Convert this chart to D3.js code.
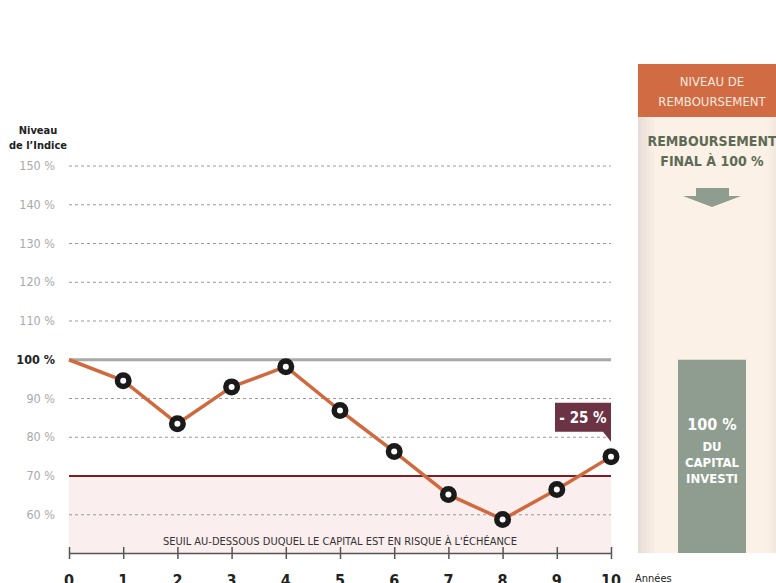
<!DOCTYPE html>
<html>
<head>
<meta charset="utf-8">
<script src="https://cdn.jsdelivr.net/npm/d3@7"></script>
<style>
body { margin: 0; background: #fff; }
svg { display: block; font-family: "Liberation Sans Narrow", "DejaVu Sans Condensed", "Roboto", sans-serif; }
</style>
</head>
<body>
<script>
var years = [0, 1, 2, 3, 4, 5, 6, 7, 8, 9, 10];
var levels = [100, 94.6, 83.5, 93.0, 98.2, 86.9, 76.3, 65.2, 58.8, 66.5, 75.0];
var yTicks = [150, 140, 130, 120, 110, 100, 90, 80, 70, 60];
var barrier = 70;
var finalLabel = "- 25 %";

var width = 776, height = 583;
var svg = d3.select("body").append("svg")
    .attr("width", width)
    .attr("height", height);

var x = d3.scaleLinear().domain([0, 10]).range([69, 611]);
var y = d3.scaleLinear().domain([50, 150]).range([553.5, 166]);

// right panel
var defs = svg.append("defs");
var grad = defs.append("linearGradient").attr("id", "shade");
grad.append("stop").attr("offset", "0%").attr("stop-color", "#e6dcd6");
grad.append("stop").attr("offset", "12%").attr("stop-color", "#fbf1e6");
grad.append("stop").attr("offset", "88%").attr("stop-color", "#fbf1e6");
grad.append("stop").attr("offset", "100%").attr("stop-color", "#e9dfd8");

svg.append("rect").attr("x", 638).attr("y", 117).attr("width", 146).attr("height", 436)
    .attr("fill", "url(#shade)");
svg.append("rect").attr("x", 638).attr("y", 64).attr("width", 146).attr("height", 53)
    .attr("fill", "#d06b44");
svg.append("text").attr("x", 712).attr("y", 86).attr("text-anchor", "middle")
    .attr("fill", "#fbe9df").style("font-size", "13px").text("NIVEAU DE");
svg.append("text").attr("x", 712).attr("y", 106).attr("text-anchor", "middle")
    .attr("fill", "#fbe9df").style("font-size", "13px").text("REMBOURSEMENT");
svg.append("text").attr("x", 712).attr("y", 146).attr("text-anchor", "middle")
    .attr("fill", "#5d6b55").style("font-size", "14px").style("font-weight", "bold").text("REMBOURSEMENT");
svg.append("text").attr("x", 712).attr("y", 166).attr("text-anchor", "middle")
    .attr("fill", "#5d6b55").style("font-size", "14px").style("font-weight", "bold").text("FINAL À 100 %");
// arrow: stem + head
svg.append("path").attr("d", "M696,188 L729,188 L729,196 L741,196 L712,207 L683,196 L696,196 Z")
    .attr("fill", "#8e9d8f");

svg.append("rect").attr("x", 678).attr("y", y(100)).attr("width", 68).attr("height", 553 - y(100))
    .attr("fill", "#8e9d8f");
svg.append("text").attr("x", 712).attr("y", 430).attr("text-anchor", "middle")
    .attr("fill", "#fff").style("font-size", "16px").style("font-weight", "bold").text("100 %");
["DU", "CAPITAL", "INVESTI"].forEach(function (t, i) {
    svg.append("text").attr("x", 712).attr("y", 451 + i * 16).attr("text-anchor", "middle")
        .attr("fill", "#fff").style("font-size", "13px").style("font-weight", "bold").text(t);
});

// risk zone
svg.append("rect").attr("x", x(0)).attr("y", y(barrier)).attr("width", x(10) - x(0))
    .attr("height", y(50) - y(barrier)).attr("fill", "#fbeeee");
svg.append("text").attr("x", (x(0) + x(10)) / 2).attr("y", 545).attr("text-anchor", "middle")
    .attr("fill", "#333").style("font-size", "11px")
    .text("SEUIL AU-DESSOUS DUQUEL LE CAPITAL EST EN RISQUE À L'ÉCHÉANCE");

// grid
svg.selectAll(".grid").data(yTicks.filter(function (d) { return d !== 100 && d !== barrier; }))
    .enter().append("line")
    .attr("x1", x(0)).attr("x2", x(10))
    .attr("y1", function (d) { return y(d); }).attr("y2", function (d) { return y(d); })
    .attr("stroke", "#999").attr("stroke-width", 1).attr("stroke-dasharray", "3,3");

svg.append("line").attr("x1", x(0)).attr("x2", x(10)).attr("y1", y(100)).attr("y2", y(100))
    .attr("stroke", "#a9a9a9").attr("stroke-width", 3);
svg.append("line").attr("x1", x(0)).attr("x2", x(10)).attr("y1", y(barrier)).attr("y2", y(barrier))
    .attr("stroke", "#7d1f22").attr("stroke-width", 2);

// y labels
svg.selectAll(".ylab").data(yTicks).enter().append("text")
    .attr("x", 55).attr("y", function (d) { return y(d) + 4; })
    .attr("text-anchor", "end")
    .attr("fill", function (d) { return d === 100 ? "#222" : "#aaa"; })
    .style("font-weight", function (d) { return d === 100 ? "bold" : "normal"; })
    .style("font-size", "12.5px")
    .text(function (d) { return d + " %"; });

svg.append("text").attr("x", 38).attr("y", 134).attr("text-anchor", "middle")
    .attr("fill", "#222").style("font-size", "11px").style("font-weight", "bold").text("Niveau");
svg.append("text").attr("x", 38).attr("y", 149).attr("text-anchor", "middle")
    .attr("fill", "#222").style("font-size", "11px").style("font-weight", "bold").text("de l’Indice");

// x axis
var xAxis = svg.append("g").attr("transform", "translate(0,553)")
    .call(d3.axisBottom(x).tickValues(years).tickSize(0).tickFormat(""));
xAxis.select(".domain").attr("stroke", "#555").attr("stroke-width", 1.5);
xAxis.selectAll(".tick line").attr("y1", -6).attr("y2", 6).attr("stroke", "#555").attr("stroke-width", 1.5);
svg.selectAll(".xlab").data(years).enter().append("text")
    .attr("x", function (d) { return x(d); }).attr("y", 586)
    .attr("text-anchor", "middle").attr("fill", "#222")
    .style("font-size", "16px").style("font-weight", "bold")
    .text(function (d) { return d; });
svg.append("text").attr("x", 635).attr("y", 582).attr("fill", "#222")
    .style("font-size", "11px").text("Années");

// line
var line = d3.line().x(function (d, i) { return x(years[i]); }).y(function (d) { return y(d); });
svg.append("path").datum(levels).attr("d", line)
    .attr("fill", "none").attr("stroke", "#d06a3e").attr("stroke-width", 3.5)
    .attr("stroke-linejoin", "round");

var pts = svg.selectAll(".pt").data(levels.slice(1)).enter().append("g")
    .attr("transform", function (d, i) { return "translate(" + x(years[i + 1]) + "," + y(d) + ")"; });
pts.append("circle").attr("r", 8.5).attr("fill", "#1a1a1a");
pts.append("circle").attr("r", 3).attr("fill", "#fff");

// callout
var cx = x(10), cy = y(levels[10]);
svg.append("path")
    .attr("d", "M" + (cx - 56) + "," + (cy - 54) + " L" + cx + "," + (cy - 54) + " L" + cx + "," + (cy - 15) +
        " L" + (cx - 8) + "," + (cy - 25) + " L" + (cx - 56) + "," + (cy - 25) + " Z")
    .attr("fill", "#6b3344");
svg.append("text").attr("x", cx - 28).attr("y", cy - 34).attr("text-anchor", "middle")
    .attr("fill", "#fff").style("font-size", "15px").style("font-weight", "bold").text(finalLabel);
</script>
</body>
</html>
